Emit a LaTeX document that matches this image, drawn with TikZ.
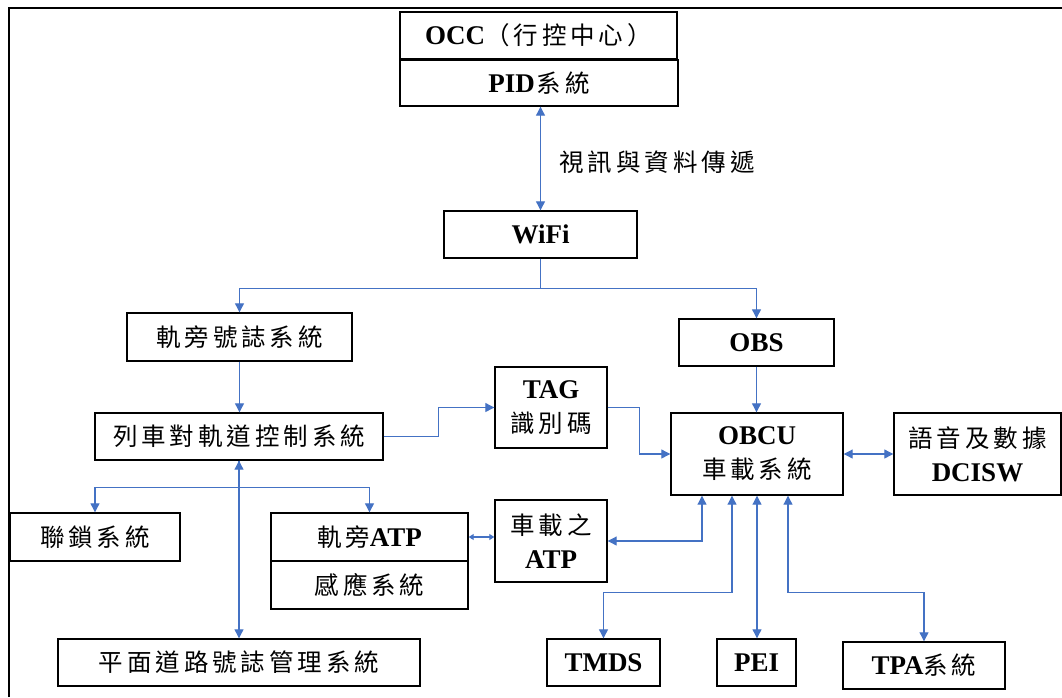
\documentclass[tikz,border=0pt]{standalone}
\usepackage{fontspec}
\setmainfont{Liberation Serif}
\newfontfamily\cjk[LetterSpace=16]{Noto Sans CJK TC}
\usetikzlibrary{arrows.meta}
\definecolor{conn}{HTML}{4472C4}
\newcommand\lt[1]{{\fontsize{27}{34}\selectfont\bfseries #1}}
\newcommand\zh[1]{{\cjk\fontsize{24.5}{34}\selectfont #1}}
\begin{document}
\begin{tikzpicture}[x=1pt,y=-1pt,
  box/.style={draw=black,line width=1.4pt,fill=white,inner sep=0pt,align=center,font=\fontsize{24}{34}\selectfont},
  sz/.style 2 args={minimum width=#1pt,minimum height=#2pt},
  conline/.style={draw=conn,line width=1.1pt},
  tip/.tip={Triangle[length=9pt,width=9pt]},
  smalltip/.tip={Triangle[length=5pt,width=6pt]}]
\useasboundingbox (0,0) rectangle (1062,697);
\fill[white] (0,0) rectangle (1062,697);
% outer frame
\draw[line width=2pt] (9,697) -- (9,8) -- (1062,8);

% nodes
\node[box,sz={277}{47}] (occ) at (538.5,35.5) {\lt{OCC}\zh{（行控中心）}};
\node[box,sz={278}{46}] (pid) at (539,83) {\lt{PID}\hspace{2pt}\zh{系統}};
\node[box,sz={193}{47}] (wifi) at (540.5,234.5) {\lt{WiFi}};
\node[box,sz={225}{48}] (gsig) at (239.5,337) {\zh{軌旁號誌系統}};
\node[box,sz={288}{47}] (tcs) at (239,436.5) {\zh{列車對軌道控制系統}};
\node[box,sz={112}{81}] (tag) at (551,407.5) {\lt{TAG}\\\zh{識別碼}};
\node[box,sz={155}{47}] (obs) at (756.5,342.5) {\lt{OBS}};
\node[box,sz={172}{82}] (obcu) at (757,454) {\lt{OBCU}\\\zh{車載系統}};
\node[box,sz={167}{82}] (dcisw) at (977.5,454) {\zh{語音及數據}\\\lt{DCISW}};
\node[box,sz={112}{82}] (vatp) at (551,541) {\zh{車載之}\\\lt{ATP}};
\node[box,sz={197}{48}] (watp) at (369.5,537) {\zh{軌旁}\lt{ATP}};
\node[box,sz={197}{48}] (sense) at (369.5,585) {\zh{感應系統}};
\node[box,sz={170}{48}] (lock) at (95,537) {\zh{聯鎖系統}};
\node[box,sz={362}{47}] (road) at (239,662.5) {\zh{平面道路號誌管理系統}};
\node[box,sz={113}{47}] (tmds) at (603.5,662.5) {\lt{TMDS}};
\node[box,sz={79}{47}] (pei) at (756.5,662.5) {\lt{PEI}};
\node[box,sz={162}{47}] (tpa) at (924,665.5) {\lt{TPA}\zh{系統}};
\node[inner sep=0pt,font=\fontsize{24}{34}\selectfont] (lbl) at (657,162) {\zh{視訊與資料傳遞}};

% connectors
\draw[conline,tip-tip] (wifi.north |- pid.south) -- (wifi.north);
\draw[conline,-tip] (wifi.south) -- ++(0,30) -| (gsig.north);
\draw[conline,-tip] (wifi.south) -- ++(0,30) -| (obs.north);
\draw[conline,-tip] (gsig.south) -- (gsig.south |- tcs.north);
\draw[conline,-tip] (tcs.east) -- ++(55,0) |- (tag.west);
\draw[conline,-tip] (tag.east) -- ++(32,0) |- (obcu.west);
\draw[conline,-tip] (obs.south) -- (obcu.north -| obs.south);
\draw[conline,tip-tip] (obcu.east) -- (dcisw.west);
\draw[conline,tip-tip] ([xshift=-55pt]obcu.south) |- (vatp.east);
\draw[conline,tip-tip] ([xshift=-25pt]obcu.south) -- ++(0,97) -| (tmds.north);
\draw[conline,tip-tip] (obcu.south) -- (pei.north -| obcu.south);
\draw[conline,tip-tip] ([xshift=31pt]obcu.south) -- ++(0,97) -| (tpa.north);
\draw[conline,tip-tip] (tcs.south) -- (road.north);
\draw[conline,-tip] (tcs.south) -- ++(0,27) -| (lock.north);
\draw[conline,-tip] (tcs.south) -- ++(0,27) -| (watp.north);
\draw[conline,smalltip-smalltip] (watp.east) -- (vatp.west |- watp.east);
\end{tikzpicture}
\end{document}
